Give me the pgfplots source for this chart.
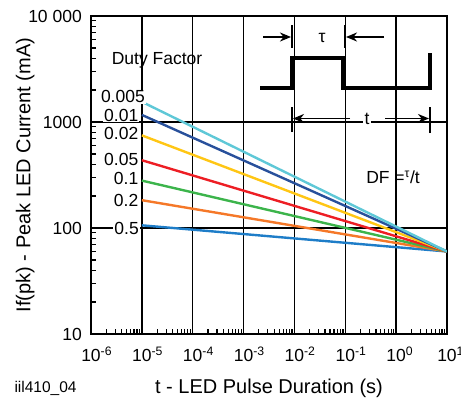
\documentclass[border=0pt]{standalone}
\usepackage{fontspec}
\setmainfont{Liberation Sans}
\usepackage{pgfplots}
\pgfplotsset{compat=1.18}
\usetikzlibrary{arrows.meta}

\definecolor{cA}{RGB}{95,200,215}
\definecolor{cB}{RGB}{40,80,155}
\definecolor{cC}{RGB}{255,198,20}
\definecolor{cD}{RGB}{237,30,36}
\definecolor{cE}{RGB}{60,180,75}
\definecolor{cF}{RGB}{245,120,40}
\definecolor{cG}{RGB}{30,125,200}

\newcommand{\tk}{\fontsize{17.5}{20}\selectfont}
\newcommand{\lb}{\fontsize{20}{24}\selectfont}

\begin{document}
\begin{tikzpicture}[x=1pt,y=1pt]
\useasboundingbox (0,0) rectangle (461,400);
\begin{axis}[
  at={(91pt,66pt)}, anchor=south west,
  scale only axis,
  width=356pt, height=318pt,
  xmode=log, ymode=log,
  xmin=1e-6, xmax=10,
  ymin=10, ymax=10000,
  axis line style={line width=2.4pt},
  xtick={1e-6,1e-5,1e-4,1e-3,1e-2,1e-1,1,10},
  xticklabels={10\rlap{\textsuperscript{-6}},10\rlap{\textsuperscript{-5}},10\rlap{\textsuperscript{-4}},10\rlap{\textsuperscript{-3}},10\rlap{\textsuperscript{-2}},10\rlap{\textsuperscript{-1}},10\rlap{\textsuperscript{0}},10\rlap{\textsuperscript{1}}},
  ytick={10,100,1000,10000},
  yticklabels={10,100,1000,10 000},
  xticklabel style={font=\tk, anchor=base, inner sep=0pt, yshift=-27.5pt},
  yticklabel style={font=\tk, anchor=east, inner sep=0pt, xshift=-9pt},
  grid=major,
  major grid style={black, line width=1.5pt},
  tick align=inside,
  xtick pos=left, ytick pos=left,
  major tick length=0pt,
  minor tick length=5pt,
  minor tick style={black, line width=1.2pt},
  xlabel={t - LED Pulse Duration (s)},
  ylabel={If(pk) - Peak LED Current (mA)},
  xlabel style={font=\lb, at={(axis description cs:0.5,-0.17)}, anchor=center},
  ylabel style={font=\lb, at={(axis description cs:-0.185,0.5)}, anchor=center, rotate=0},
]
\addplot[cG, line width=2.4pt] coordinates {(1e-5,106) (10,60)};
\addplot[cF, line width=2.4pt] coordinates {(1e-5,183) (10,60)};
\addplot[cE, line width=2.4pt] coordinates {(1e-5,280) (10,60)};
\addplot[cD, line width=2.4pt] coordinates {(1e-5,436) (10,60)};
\addplot[cC, line width=2.4pt] coordinates {(1e-5,748) (10,60)};
\addplot[cB, line width=2.4pt] coordinates {(1e-5,1167) (10,60)};
\addplot[cA, line width=2.4pt] coordinates {(1e-5,1550) (10,60)};
\end{axis}

% duty factor labels
\node[font=\tk] at (157,340) {Duty Factor};
\begin{scope}[every node/.style={font=\tk, fill=white, inner sep=1pt, anchor=east}]
\node at (146,303.3) {0.005};
\node at (139.5,285) {0.01};
\node at (139.5,267) {0.02};
\node at (139.5,241) {0.05};
\node at (139.5,222) {0.1};
\node at (139.5,200) {0.2};
\node at (140,172) {0.5};
\end{scope}

% pulse sketch
\draw[line width=3.2pt] (260,312) -- (292,312) -- (292,342) -- (343,342) -- (343,312) -- (430,312) -- (430,347);
\begin{scope}[line width=1.8pt, -{Stealth[length=11pt,width=9pt]}]
\draw (263,363) -- (291,363);
\draw (384,363) -- (346,363);
\draw (350,281.5) -- (293,281.5);
\draw (385,281.5) -- (429,281.5);
\end{scope}
\draw[line width=2pt] (292,352) -- (292,375);
\draw[line width=2pt] (345,352) -- (345,375);
\draw[line width=2pt] (292,268) -- (292,293);
\draw[line width=2pt] (430,267) -- (430,293);
\node[font=\tk] at (322,362) {τ};
\node[font=\tk, fill=white, inner sep=2pt] at (367,281) {t};
\node[font=\tk] at (393,223) {DF =\textsuperscript{τ}/t};

\node[font=\fontsize{15.5}{18}\selectfont, anchor=west] at (11,12) {iil410\_04};
\end{tikzpicture}
\end{document}
